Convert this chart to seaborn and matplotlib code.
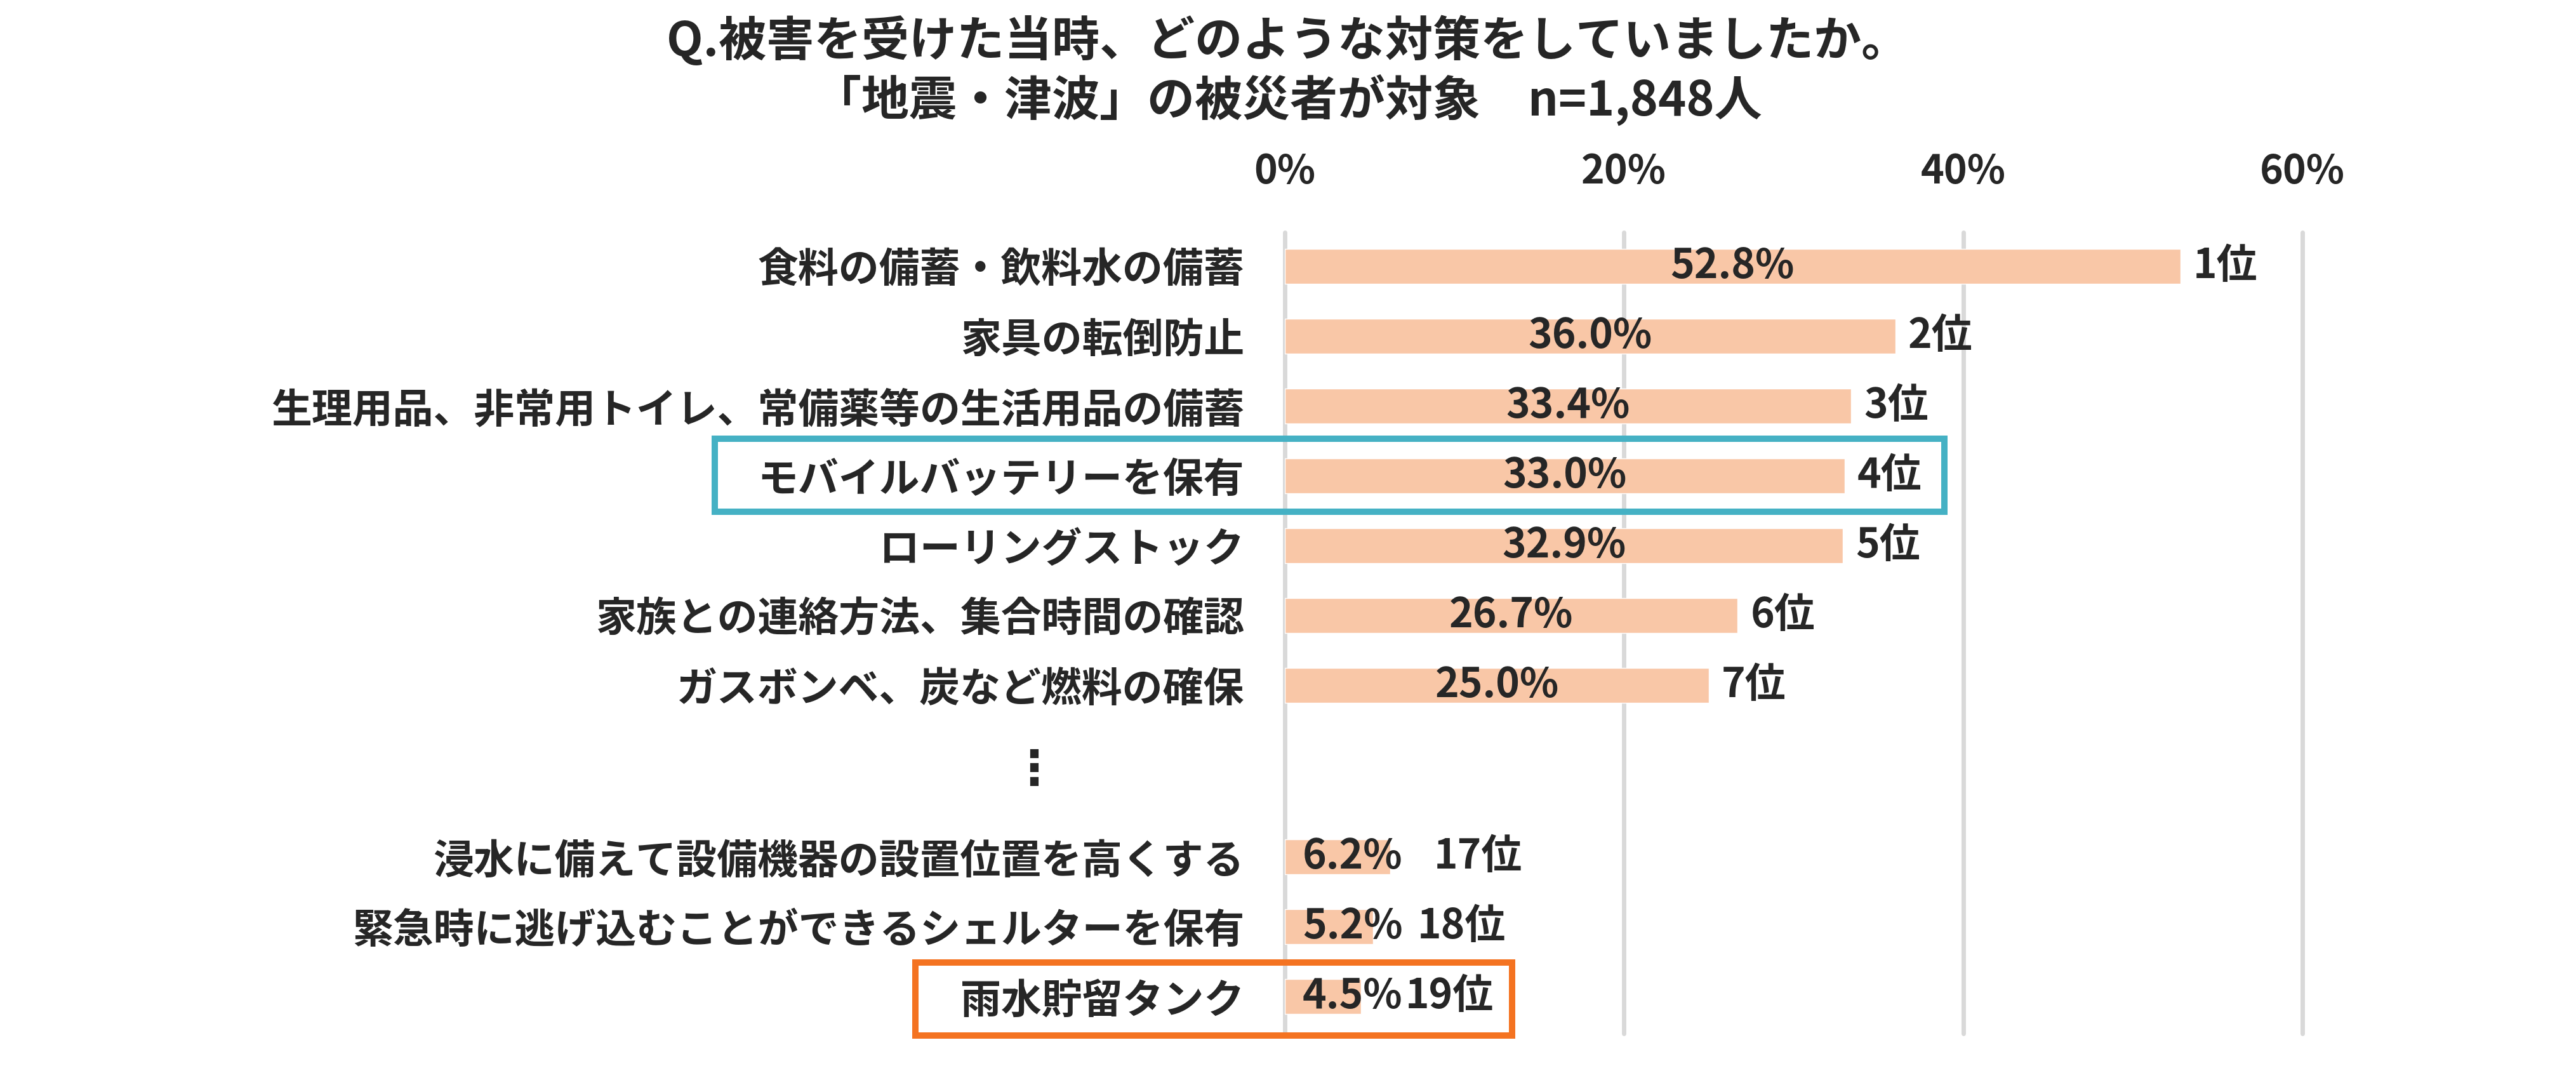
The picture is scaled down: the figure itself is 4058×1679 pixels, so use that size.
import numpy as np
import pandas as pd
import seaborn as sns
import matplotlib
matplotlib.use("Agg")
from matplotlib import pyplot as plt
from matplotlib.patches import Rectangle

sns.set_theme(style="white")
plt.rcParams['font.family'] = ['Noto Sans CJK JP', 'DejaVu Sans']
plt.rcParams['font.weight'] = 'bold'

# data
categories = [
    "食料の備蓄・飲料水の備蓄",
    "家具の転倒防止",
    "生理用品、非常用トイレ、常備薬等の生活用品の備蓄",
    "モバイルバッテリーを保有",
    "ローリングストック",
    "家族との連絡方法、集合時間の確認",
    "ガスボンベ、炭など燃料の確保",
    "浸水に備えて設備機器の設置位置を高くする",
    "緊急時に逃げ込むことができるシェルターを保有",
    "雨水貯留タンク",
]
values = [52.8, 36.0, 33.4, 33.0, 32.9, 26.7, 25.0, 6.2, 5.2, 4.5]
ranks = [1, 2, 3, 4, 5, 6, 7, 17, 18, 19]
xticks = [0, 20, 40, 60]
title = "Q.被害を受けた当時、どのような対策をしていましたか。\n「地震・津波」の被災者が対象　n=1,848人"

# rows: items after rank 7 are pushed down to leave room for the dots
gap = 1.46
ypos = [i + (gap if r > 7 else 0) for i, r in enumerate(ranks)]
df = pd.DataFrame({"cat": categories, "val": values, "rank": ranks, "y": ypos})

bar_color = "#F9C7A7"
grid_color = "#D9D9D9"
fs = 46

fig = plt.figure(figsize=(40.58, 16.79), dpi=100)
ax = fig.add_axes([0.49877, 0.03038, 0.39502, 0.75163])

sns.barplot(data=df, x="val", y="y", orient="y", native_scale=True,
            width=0.5, color=bar_color, saturation=1, ax=ax, zorder=2)

ax.set_xlim(0, 60)
ax.set_ylim(10.99, -0.482)
ax.set_xticks(xticks)
ax.set_xticklabels([f"{t}%" for t in xticks], fontsize=45, fontweight='bold')
ax.xaxis.tick_top()
ax.tick_params(axis='x', length=0, pad=46)
ax.set_yticks(df["y"])
ax.set_yticklabels(df["cat"], fontsize=fs, fontweight='bold')
ax.tick_params(axis='y', length=0, pad=46)
ax.set_xlabel("")
ax.set_ylabel("")
for s in ax.spines.values():
    s.set_visible(False)
ax.grid(axis='x', color=grid_color, lw=5)
ax.grid(axis='y', visible=False)
ax.set_axisbelow(True)
for gl in ax.xaxis.get_gridlines():
    gl.set_clip_on(False)

# value and rank labels
for _, row in df.iterrows():
    v, y = row["val"], row["y"]
    if v / 2 < 3.65:
        ax.text(1.05, y, f"{v:.1f}%", ha='left', va='center', fontsize=fs,
                fontweight='bold', zorder=3)
        rx = v + 2.6
    else:
        ax.text(v / 2, y, f"{v:.1f}%", ha='center', va='center', fontsize=fs,
                fontweight='bold', zorder=3)
        rx = v + 0.75
    ax.text(rx, y, f"{row['rank']}位", ha='left', va='center', fontsize=fs,
            fontweight='bold', zorder=3)

# vertical dots between rank 7 and rank 17
ax.text(-14.8, (ypos[6] + ypos[7]) / 2, "⋮", ha='center', va='center',
        fontsize=54, family=['DejaVu Sans'], clip_on=False)

# highlight boxes
hi = df.index[df["rank"] == 4][0]
ax.add_patch(Rectangle((-33.6, df["y"][hi] - 0.53), 33.6 + 38.9, 1.05, fill=False,
                       edgecolor="#45B1C4", lw=7.2, clip_on=False, zorder=4))
lo = df.index[df["rank"] == 19][0]
ax.add_patch(Rectangle((-21.8, df["y"][lo] - 0.49), 21.8 + 13.4, 1.05, fill=False,
                       edgecolor="#F47321", lw=7.2, clip_on=False, zorder=4))

fig.text(0.5, 1 - 111 / 1679, title, ha='center', va='center', fontsize=54,
         fontweight='bold', linespacing=1.2)

fig.savefig("out.png", dpi=100, facecolor='white')
